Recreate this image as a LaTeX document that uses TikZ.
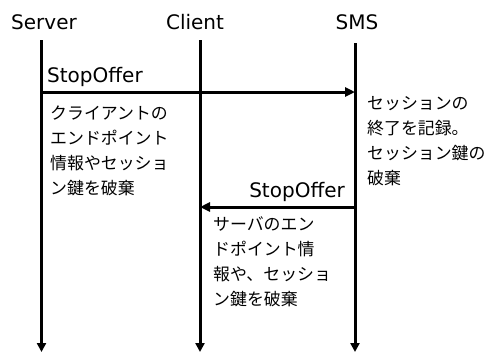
\documentclass[tikz,border=0pt]{standalone}
\usepackage{fontspec}
\setmainfont{DejaVu Sans}
\newfontfamily\jp{Noto Sans CJK JP}
\usetikzlibrary{arrows.meta}
\tikzset{
  actor/.style={font=\fontsize{20}{24}\selectfont, inner sep=0pt, anchor=base},
  msglabel/.style={font=\fontsize{20}{24}\selectfont, inner sep=0pt},
  % notes are placed by the baseline of their last line
  note/.style={font=\jp\fontsize{16.9}{25}\selectfont, align=left, inner sep=0pt, anchor=base west},
  lifeline/.style={line width=3pt, -{Triangle[length=9pt,width=9pt]}},
  msg/.style={line width=3pt, -{Triangle[length=10pt,width=9pt]}}
}
\begin{document}
\begin{tikzpicture}[x=1pt,y=-1pt]
  \useasboundingbox (0,0) rectangle (490,351);
  % participants
  \node[actor] (server) at (44,29) {Server};
  \node[actor] (client) at (195,29) {Client};
  \node[actor] (sms) at (357,29) {SMS};
  % lifelines
  \coordinate (s-top) at (41.5,40);
  \coordinate (s-bot) at (41.5,352);
  \coordinate (c-top) at (200,40);
  \coordinate (c-bot) at (200,352);
  \coordinate (m-top) at (355,43);
  \coordinate (m-bot) at (355,352);
  \draw[lifeline] (s-top) -- (s-bot);
  \draw[lifeline] (c-top) -- (c-bot);
  \draw[lifeline] (m-top) -- (m-bot);
  % message 1: Server -> SMS
  \coordinate (m1-from) at (41.5,92);
  \coordinate (m1-to) at (355,92);
  \draw[msg] (m1-from) -- (m1-to);
  \node[msglabel, anchor=base west] (m1-label) at (47,82) {StopOffer};
  % message 2: SMS -> Client
  \coordinate (m2-from) at (355,207);
  \coordinate (m2-to) at (200,207);
  \draw[msg] (m2-from) -- (m2-to);
  \node[msglabel, anchor=base east] (m2-label) at (345,197) {StopOffer};
  % notes
  \node[note] (note-server) at (50,194.5) {クライアントの\\エンドポイント\\情報やセッショ\\ン鍵を破棄};
  \node[note] (note-sms) at (367,184.5) {セッションの\\終了を記録。\\セッション鍵の\\破棄};
  \node[note] (note-client) at (213,305) {サーバのエン\\ドポイント情\\報や、セッショ\\ン鍵を破棄};
\end{tikzpicture}
\end{document}
